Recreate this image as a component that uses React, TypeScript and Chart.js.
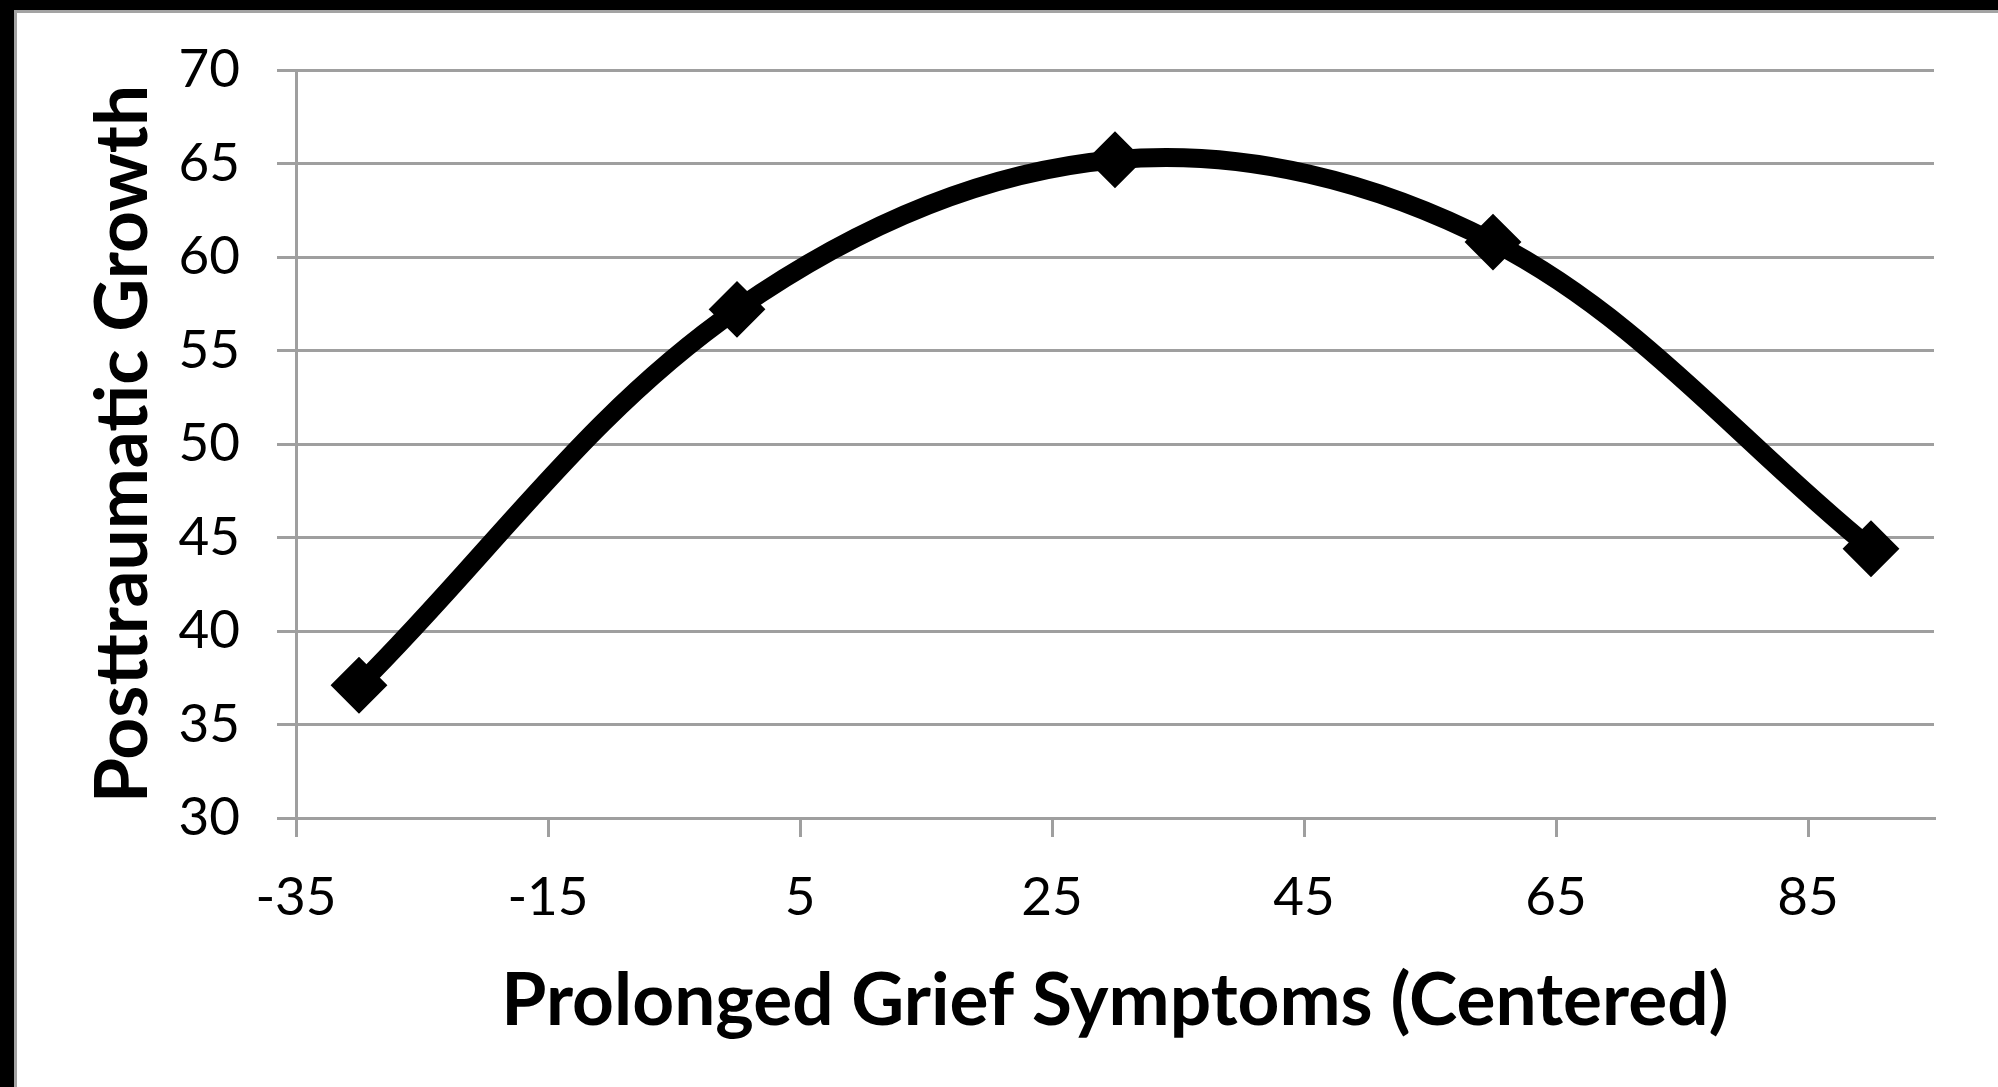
import React, { useEffect, useRef } from "react";
import { Chart, registerables } from "chart.js";

Chart.register(...registerables);

const xValues = [-30, 0, 30, 60, 90];
const yValues = [37.1, 57.2, 65.2, 60.8, 44.4];
const xTickValues = [-35, -15, 5, 25, 45, 65, 85];
const xMin = -35;
const xMax = 95;
const yMin = 30;
const yMax = 70;
const yStep = 5;
const xTitle = "Prolonged Grief Symptoms (Centered)";
const yTitle = "Posttraumatic Growth";

const W = 1998;
const H = 1087;
const GRID = "#9f9f9f";

export default function App() {
  const ref = useRef<HTMLCanvasElement | null>(null);

  useEffect(() => {
    if (!ref.current) return;
    const chart = new Chart(ref.current, {
      type: "line",
      data: {
        datasets: [
          {
            data: xValues.map((x, i) => ({ x, y: yValues[i] })),
            borderColor: "#000000",
            backgroundColor: "#000000",
            borderWidth: 19,
            tension: 0.35,
            pointStyle: "rectRot",
            pointRadius: 27,
            pointBackgroundColor: "#000000",
            pointBorderColor: "#000000",
            pointBorderWidth: 2,
            clip: false as any,
          },
        ],
      },
      options: {
        responsive: false,
        animation: false,
        devicePixelRatio: 1,
        layout: { padding: { left: 0, top: 70, right: 64, bottom: 0 } },
        plugins: { legend: { display: false }, tooltip: { enabled: false } },
        scales: {
          x: {
            type: "linear",
            min: xMin,
            max: xMax,
            afterBuildTicks: (scale: any) => {
              scale.ticks = xTickValues.map((v) => ({ value: v }));
            },
            afterFit: (scale: any) => {
              scale.height = H - 818;
            },
            grid: {
              drawOnChartArea: false,
              drawTicks: true,
              tickLength: 19,
              color: GRID,
              lineWidth: 3,
            },
            border: { display: true, color: GRID, width: 3 },
            ticks: {
              color: "#000000",
              padding: 29,
              maxRotation: 0,
              autoSkip: false,
              font: { family: "Lato", size: 53 },
              callback: (v: any) => String(v),
            },
            title: {
              display: true,
              text: xTitle,
              color: "#000000",
              font: { family: "Lato", size: 73, weight: "bold" },
              padding: { top: 0, bottom: 42 },
            },
          },
          y: {
            type: "linear",
            min: yMin,
            max: yMax,
            ticks: {
              stepSize: yStep,
              color: "#000000",
              padding: 37,
              font: { family: "Lato", size: 53 },
            },
            afterFit: (scale: any) => {
              scale.width = 296;
            },
            grid: {
              drawTicks: true,
              tickLength: 19,
              color: GRID,
              lineWidth: 3,
            },
            border: { display: true, color: GRID, width: 3 },
            title: {
              display: true,
              text: yTitle,
              color: "#000000",
              font: { family: "Lato", size: 73, weight: "bold" },
              padding: { top: 80, bottom: 0 },
            },
          },
        },
      },
    });
    return () => chart.destroy();
  }, []);

  return (
    <div
      style={{
        position: "fixed",
        left: 0,
        top: 0,
        width: W,
        height: H,
        background: "#000000",
        overflow: "hidden",
      }}
    >
      <div
        style={{
          position: "absolute",
          left: 14,
          top: 10,
          width: W,
          height: H,
          background: "#ffffff",
          borderLeft: "3px solid #a3a3a3",
          borderTop: "3px solid #a3a3a3",
        }}
      />
      <canvas
        ref={ref}
        width={W}
        height={H}
        style={{ position: "absolute", left: 0, top: 0, width: W, height: H }}
      />
    </div>
  );
}
